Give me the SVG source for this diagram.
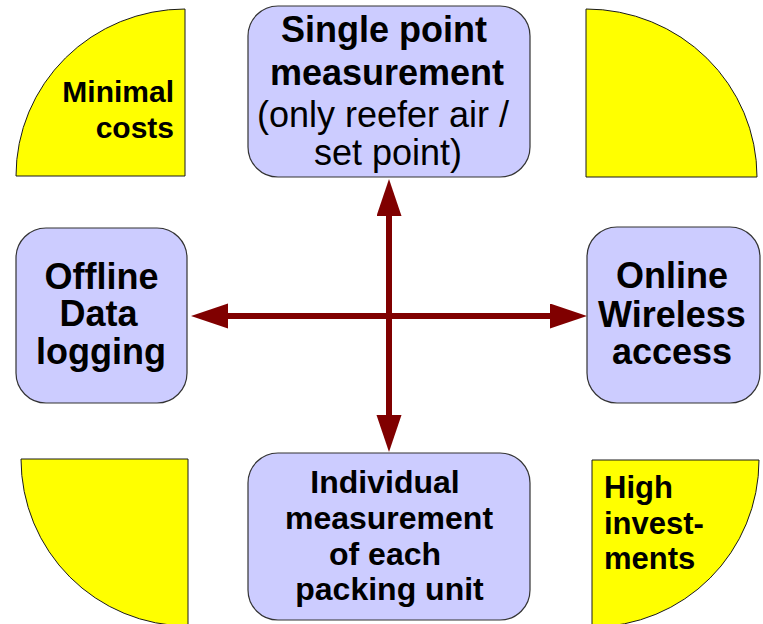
<svg xmlns="http://www.w3.org/2000/svg" width="763" height="624" viewBox="0 0 763 624">
<style>
.q{fill:#ffff00;stroke:#1a1a1a;stroke-width:1}
.b{fill:#ccccff;stroke:#333333;stroke-width:1.2}
.t{font-family:"Liberation Sans",Arial,sans-serif;font-weight:bold;fill:#000;text-anchor:middle}
.r{font-weight:normal}
.c{stroke:#800000;stroke-width:6;fill:none}
</style>
<defs>
<marker id="ah" markerUnits="userSpaceOnUse" markerWidth="38" markerHeight="26" refX="1" refY="12.5" orient="auto-start-reverse" viewBox="0 0 38 26">
<path d="M0,0 L37,12.5 L0,25 Z" fill="#800000"/>
</marker>
</defs>
<rect width="763" height="624" fill="#ffffff"/>
<g id="corner-tl">
<path class="q" d="M185,9 L185,176 L16,176 A169,167 0 0 1 185,9 Z"/>
<text class="t" style="text-anchor:end" font-size="30" x="174" y="102">Minimal</text>
<text class="t" style="text-anchor:end" font-size="30" x="174" y="138">costs</text>
</g>
<g id="corner-tr">
<path class="q" d="M586,9 A171,168 0 0 1 757,177 L586,177 Z"/>
</g>
<g id="corner-bl">
<path class="q" d="M21,459 L188,459 L188,626 A167,167 0 0 1 21,459 Z"/>
</g>
<g id="corner-br">
<path class="q" d="M592,460 L759,460 A167,167 0 0 1 592,627 Z"/>
<text class="t" style="text-anchor:start" font-size="31" x="604" y="498">High</text>
<text class="t" style="text-anchor:start" font-size="31" x="604" y="534">invest-</text>
<text class="t" style="text-anchor:start" font-size="31" x="604" y="569">ments</text>
</g>
<g id="connectors">
<line class="c" x1="389" y1="215" x2="389" y2="416" marker-start="url(#ah)" marker-end="url(#ah)"/>
<line class="c" x1="227" y1="316" x2="551" y2="316" marker-start="url(#ah)" marker-end="url(#ah)"/>
</g>
<g id="node-top">
<rect class="b" x="248" y="6" width="282" height="171" rx="30" ry="30"/>
<text class="t" font-size="36" x="384" y="42">Single point</text>
<text class="t" font-size="36" x="387" y="85">measurement</text>
<text class="t r" font-size="36" x="383" y="127">(only reefer air /</text>
<text class="t r" font-size="36" x="388" y="165">set point)</text>
</g>
<g id="node-left">
<rect class="b" x="16" y="228" width="171" height="175" rx="30" ry="30"/>
<text class="t" font-size="36" x="101.5" y="289">Offline</text>
<text class="t" font-size="36" x="98.5" y="326">Data</text>
<text class="t" font-size="36" x="101" y="364">logging</text>
</g>
<g id="node-right">
<rect class="b" x="587" y="227" width="173" height="176" rx="30" ry="30"/>
<text class="t" font-size="36" x="672" y="288">Online</text>
<text class="t" font-size="36" x="672" y="327">Wireless</text>
<text class="t" font-size="36" x="672" y="364">access</text>
</g>
<g id="node-bottom">
<rect class="b" x="248" y="453" width="282" height="167" rx="30" ry="30"/>
<text class="t" font-size="32" x="385" y="493">Individual</text>
<text class="t" font-size="32" x="389" y="529">measurement</text>
<text class="t" font-size="32" x="385" y="565">of each</text>
<text class="t" font-size="32" x="389.5" y="600">packing unit</text>
</g>
</svg>
